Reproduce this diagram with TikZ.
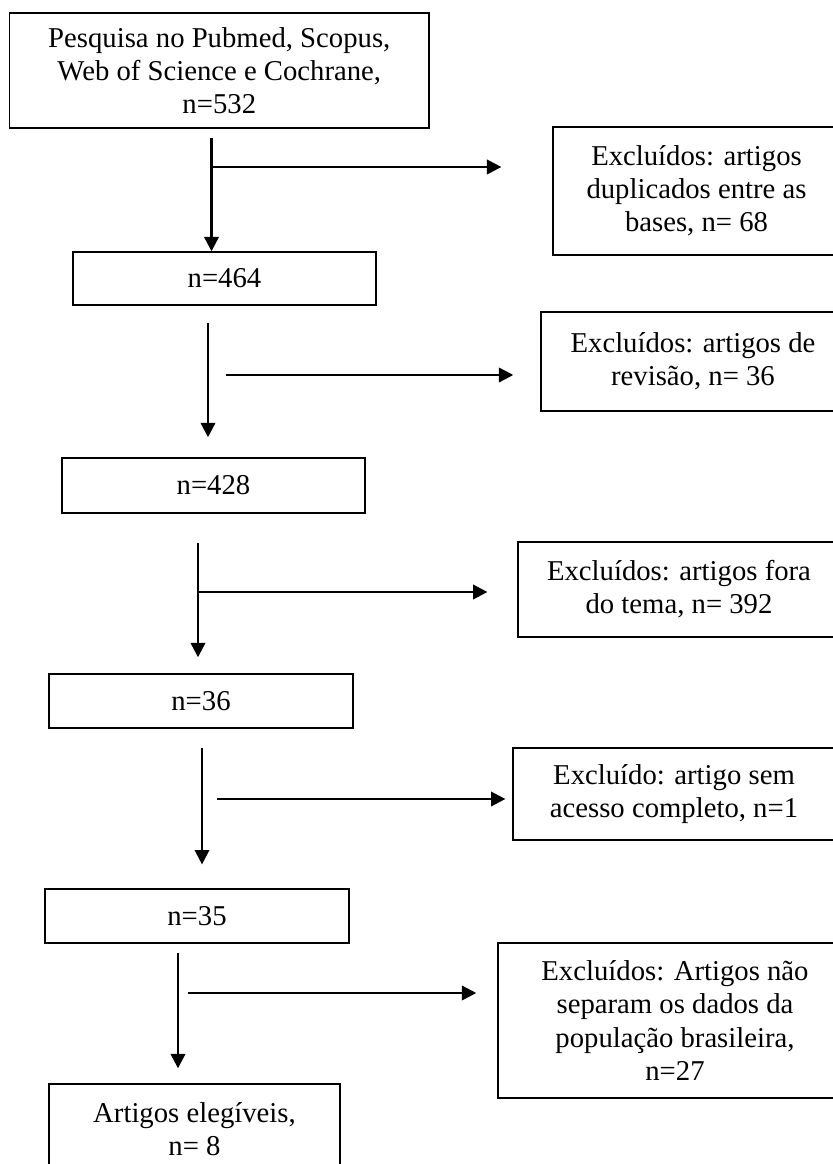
\documentclass[tikz,border=0pt]{standalone}
\usepackage{fontspec}
\setmainfont{Liberation Serif}
\usetikzlibrary{arrows.meta,positioning}
\tikzset{
  blk/.style={draw=black, line width=0.55pt, align=center, inner sep=2pt, font=\fontsize{12}{13.8}\selectfont},
  arr/.style={-{Triangle[length=6pt,width=6pt]}, line width=1pt, color=black},
}
\begin{document}
\begin{tikzpicture}[x=0.418pt, y=-0.418pt]
  \useasboundingbox (0,0) rectangle (833,1164);
  \clip (0,0) rectangle (833,1164);
  \node[blk, minimum width=175.3pt, minimum height=48.1pt] (src) at (219.3,70.5) {Pesquisa no Pubmed, Scopus,\\Web of Science e Cochrane,\\n=532};
  \node[blk, minimum width=120pt, minimum height=53.5pt] (ex1) at (696.5,191) {Excluídos: artigos\\duplicados entre as\\bases, n= 68};
  \node[blk, minimum width=126.7pt, minimum height=22.2pt] (n464) at (224.5,278.5) {n=464};
  \node[blk, minimum width=127.1pt, minimum height=41.4pt] (ex2) at (693,361.5) {Excluídos: artigos de\\revisão, n= 36};
  \node[blk, minimum width=126.7pt, minimum height=23pt] (n428) at (213.5,485.5) {n=428};
  \node[blk, minimum width=134.6pt, minimum height=39.7pt] (ex3) at (679,589.5) {Excluídos: artigos fora\\do tema, n= 392};
  \node[blk, minimum width=127.1pt, minimum height=22.6pt] (n36) at (201,701) {n=36};
  \node[blk, minimum width=134.6pt, minimum height=38.5pt] (ex4) at (674,794) {Excluído: artigo sem\\acesso completo, n=1};
  \node[blk, minimum width=127.1pt, minimum height=22.6pt] (n35) at (197,916) {n=35};
  \node[blk, minimum width=148pt, minimum height=64.8pt] (ex5) at (675,1020.5) {Excluídos: Artigos não\\separam os dados da\\população brasileira,\\n=27};
  \node[blk, minimum width=121.6pt, minimum height=37.6pt] (fin) at (194.5,1129) {Artigos elegíveis,\\n= 8};
  \coordinate (v1) at (211.5,138);
  \coordinate (h1) at (211.5,167);
  \coordinate (v2) at (208,323);
  \coordinate (h2) at (226,375);
  \coordinate (v3) at (198,543);
  \coordinate (h3) at (198,592);
  \coordinate (v4) at (202,748);
  \coordinate (h4) at (217,799);
  \coordinate (v5) at (178,953);
  \coordinate (h5) at (188,993);
  \draw[arr] (v1) -- (v1 |- n464.north);
  \draw[arr, shorten >=21.3pt] (h1) -- (h1 -| ex1.west);
  \draw[arr, shorten >=8.4pt] (v2) -- (v2 |- n428.north);
  \draw[arr, shorten >=11.3pt] (h2) -- (h2 -| ex2.west);
  \draw[arr, shorten >=6.7pt] (v3) -- (v3 |- n36.north);
  \draw[arr, shorten >=12.5pt] (h3) -- (h3 -| ex3.west);
  \draw[arr, shorten >=10pt] (v4) -- (v4 |- n35.north);
  \draw[arr, shorten >=2.9pt] (h4) -- (h4 -| ex4.west);
  \draw[arr, shorten >=6.3pt] (v5) -- (v5 |- fin.north);
  \draw[arr, shorten >=8.8pt] (h5) -- (h5 -| ex5.west);
\end{tikzpicture}
\end{document}
